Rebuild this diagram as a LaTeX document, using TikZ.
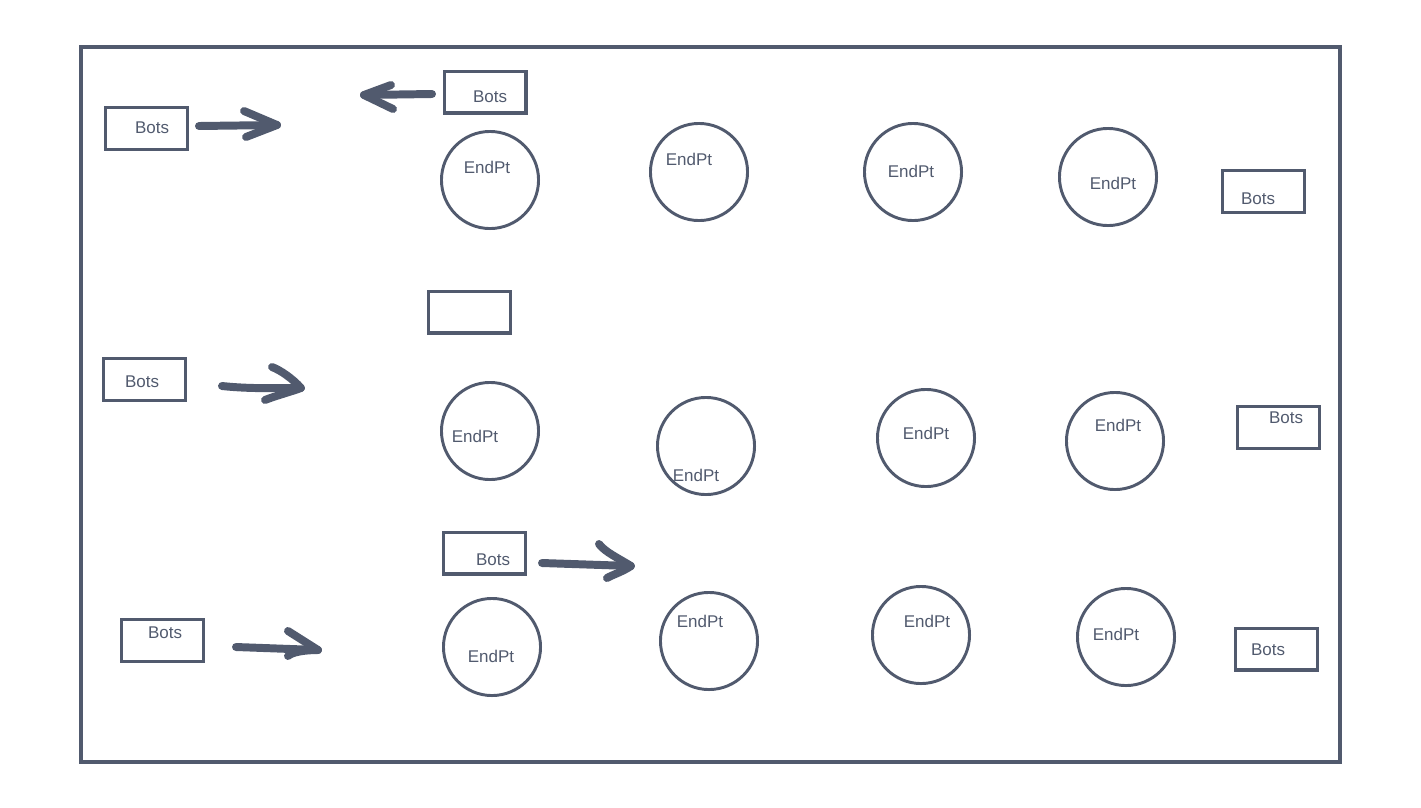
\documentclass[tikz,border=0pt]{standalone}
\usepackage{fontspec}
\setmainfont{Liberation Sans}
\begin{document}
\begin{tikzpicture}[x=0.03cm,y=-0.03cm,
  frame/.style={draw=inkc,line width=2.7pt},
  botbox/.style={draw=inkc,line width=2.6pt,minimum width=2.55cm-2.6pt,minimum height=1.35cm-2.6pt,inner sep=0pt},
  endpt/.style={draw=inkc,line width=2.5pt,circle,minimum size=3cm-2.5pt,inner sep=0pt},
  lbl/.style={text=inkc,font=\fontsize{14.5pt}{16pt}\selectfont,inner sep=0pt,anchor=center},
  thick arrow/.style={draw=inkc,line width=6.8pt,line cap=round,line join=round}
]
\definecolor{inkc}{HTML}{515A6E}
\useasboundingbox (0,0) rectangle (1421,807);
% frame
\draw[frame] (81,47) -- (1340,47) -- (1340,762) -- (81,762) -- cycle;

% Bots boxes
\node[botbox] (b1) at (146.5,128.5) {};
\node[botbox] (b2) at (485,92) {};
\node[botbox] (b3) at (1263.5,191.5) {};
\node[botbox] (b4) at (144.5,379.5) {};
\node[botbox] (b5) at (469.5,312) {};
\node[botbox] (b6) at (1278.5,427.5) {};
\node[botbox] (b7) at (484.5,553) {};
\node[botbox] (b8) at (162.5,640.5) {};
\node[botbox] (b9) at (1276.5,649) {};
\node[lbl] (t1) at (152,128) {Bots};
\node[lbl] (t2) at (490,97) {Bots};
\node[lbl] (t3) at (1258,199) {Bots};
\node[lbl] (t4) at (142,382) {Bots};
\node[lbl] (t6) at (1286,418) {Bots};
\node[lbl] (t7) at (493,560) {Bots};
\node[lbl] (t8) at (165,633) {Bots};
\node[lbl] (t9) at (1268,650) {Bots};

% EndPt circles
\node[endpt] (c11) at (490,180) {};
\node[endpt] (c12) at (699,172) {};
\node[endpt] (c13) at (913,172) {};
\node[endpt] (c14) at (1108,177) {};
\node[endpt] (c21) at (490,431) {};
\node[endpt] (c22) at (706,446) {};
\node[endpt] (c23) at (926,438) {};
\node[endpt] (c24) at (1115,441) {};
\node[endpt] (c31) at (492,647) {};
\node[endpt] (c32) at (709,641) {};
\node[endpt] (c33) at (921,635) {};
\node[endpt] (c34) at (1126,637) {};
\node[lbl] (e11) at (487,167) {EndPt};
\node[lbl] (e12) at (689,159) {EndPt};
\node[lbl] (e13) at (911,171) {EndPt};
\node[lbl] (e14) at (1113,183) {EndPt};
\node[lbl] (e21) at (475,436) {EndPt};
\node[lbl] (e22) at (696,475) {EndPt};
\node[lbl] (e23) at (926,433) {EndPt};
\node[lbl] (e24) at (1118,425) {EndPt};
\node[lbl] (e31) at (491,656) {EndPt};
\node[lbl] (e32) at (700,621) {EndPt};
\node[lbl] (e33) at (927,621) {EndPt};
\node[lbl] (e34) at (1116,634) {EndPt};

% arrow coordinates
\coordinate (a1s) at (199,126); \coordinate (a1e) at (277,125);
\coordinate (a1u) at (244,111); \coordinate (a1d) at (246,137);
\coordinate (a2s) at (432,94); \coordinate (a2e) at (364,95);
\coordinate (a2u) at (391,85); \coordinate (a2d) at (393,109);
\coordinate (a3s) at (222,386); \coordinate (a3e) at (301,388);
\coordinate (a3u) at (272,367); \coordinate (a3d) at (265,400);
\coordinate (a4s) at (542,563); \coordinate (a4e) at (631,566);
\coordinate (a4u) at (599,544); \coordinate (a4d) at (607,578);
\coordinate (a5s) at (236,647); \coordinate (a5e) at (318,650);
\coordinate (a5u) at (288,631); \coordinate (a5d) at (288,656);

\draw[thick arrow] (a1s) -- (a1e);
\draw[thick arrow] (a1u) -- (a1e) -- (a1d);
\draw[thick arrow] (a2s) -- (a2e);
\draw[thick arrow] (a2u) -- (a2e) -- (a2d);
\draw[thick arrow] (a3s) .. controls (250,389) and (275,388) .. (a3e);
\draw[thick arrow] (a3u) .. controls (280,370) and (292,378) .. (a3e) .. controls (290,392) and (275,396) .. (a3d);
\draw[thick arrow] (a4s) -- (a4e);
\draw[thick arrow] (a4u) .. controls (605,552) and (618,558) .. (a4e) .. controls (622,572) and (612,575) .. (a4d);
\draw[thick arrow] (a5s) -- (a5e);
\draw[thick arrow] (a5u) -- (a5e) .. controls (305,650) and (292,652) .. (a5d);
\end{tikzpicture}
\end{document}
